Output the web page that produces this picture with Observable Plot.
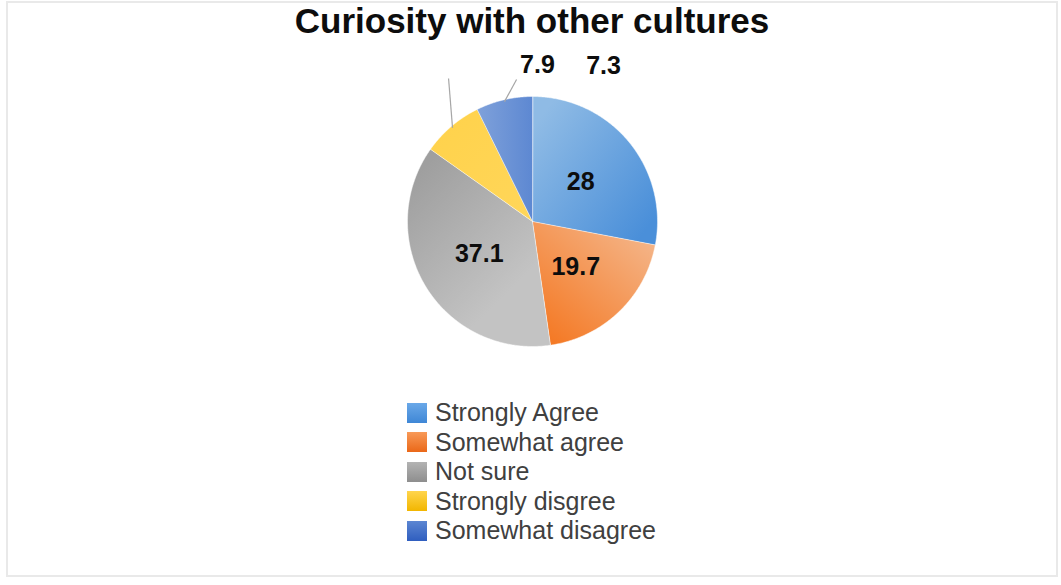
<!DOCTYPE html>
<html>
<head>
<meta charset="utf-8">
<script src="https://cdn.jsdelivr.net/npm/d3@7"></script>
<script src="https://cdn.jsdelivr.net/npm/@observablehq/plot@0.6"></script>
<style>
  html, body { margin: 0; padding: 0; background: #fff; }
  body { width: 1061px; height: 585px; overflow: hidden; font-family: "Liberation Sans", Arial, sans-serif; }
  #wrap { position: relative; width: 1061px; height: 585px; }
  #frame { position: absolute; left: 6px; top: 1px; width: 1048px; height: 572px; border: 2px solid #e9e9e9; }
  #title { position: absolute; left: 0; top: 1px; width: 1064px; text-align: center; font-size: 35px; line-height: 40px; font-weight: bold; color: #0d0d0d; }
  #chart { position: absolute; left: 0; top: 45px; }
  #legend { position: absolute; left: 407px; top: 398px; }
  .row { display: flex; align-items: center; height: 29.5px; }
  .sw { width: 20px; height: 20px; margin-right: 8px; }
  .lab { font-size: 25px; color: #404040; line-height: 27px; white-space: nowrap; }
</style>
</head>
<body>
<div id="wrap">
  <div id="frame"></div>
  <div id="title"></div>
  <div id="chart"></div>
  <div id="legend"></div>
</div>
<script>
// ---- data ----
const title = "Curiosity with other cultures";
const categories = ["Strongly Agree", "Somewhat agree", "Not sure", "Strongly disgree", "Somewhat disagree"];
const values = [28, 19.7, 37.1, 7.9, 7.3];
const valueLabels = ["28", "19.7", "37.1", "7.9", "7.3"];

// ---- styles (gradients per slice) ----
const sliceGradients = [
  {x1: 0.1, y1: 0.1, x2: 0.95, y2: 0.85, c1: "#8fbbe5", c2: "#4a8fd9"},
  {x1: 0.9, y1: 0.1, x2: 0.15, y2: 0.95, c1: "#f4b487", c2: "#f47a26"},
  {x1: 0.1, y1: 0.1, x2: 0.6, y2: 0.8, c1: "#9f9f9f", c2: "#c3c3c3"},
  {x1: 0.0, y1: 0.0, x2: 1.0, y2: 1.0, c1: "#ffd24a", c2: "#ffd65a"},
  {x1: 0.0, y1: 0.5, x2: 1.0, y2: 0.5, c1: "#7fa1da", c2: "#5d88d2"}
];
const swatchGradients = [
  ["#6aa8e8", "#3f87d6"],
  ["#f89a58", "#ea6818"],
  ["#b3b3b3", "#8e8e8e"],
  ["#ffd54d", "#f2b600"],
  ["#5c86d2", "#2f5ebf"]
];
// layout of outside labels (polar: angle in degrees clockwise from top, radius relative to pie radius)
const outsideLayout = {
  3: {labelAngle: 1.8, labelR: 1.25, lineEndAngle: 329.6, lineEndR: 1.327},
  4: {labelAngle: 24.5, labelR: 1.371, lineEndAngle: 353.6, lineEndR: 1.143}
};

document.getElementById("title").textContent = title;

// ---- compute slice geometry ----
const total = d3.sum(values);
let acc = 0;
const slices = values.map((v, i) => {
  const a0 = acc / total * 360;
  acc += v;
  const a1 = acc / total * 360;
  return {i, a0, a1, mid: (a0 + a1) / 2};
});
const rad = a => a * Math.PI / 180;
const px = (a, r) => r * Math.sin(rad(a));
const py = (a, r) => r * Math.cos(rad(a));

const marks = [];
slices.forEach(s => {
  const pts = [{x: 0, y: 0}];
  const n = Math.max(2, Math.ceil((s.a1 - s.a0) / 0.5));
  for (let k = 0; k <= n; k++) {
    const a = s.a0 + (s.a1 - s.a0) * k / n;
    pts.push({x: px(a, 1), y: py(a, 1)});
  }
  marks.push(Plot.line(pts, {x: "x", y: "y", curve: "linear-closed", fill: `url(#sg${s.i})`, stroke: "#ffffff", strokeWidth: 0.6, strokeOpacity: 0.8}));
});

// inside labels
const inside = slices.filter(s => !outsideLayout[s.i]).map(s => ({x: px(s.mid, 0.5), y: py(s.mid, 0.5), t: valueLabels[s.i]}));
marks.push(Plot.text(inside, {x: "x", y: "y", text: "t", fontSize: 25, fontWeight: "bold", fill: "#0d0d0d"}));

// outside labels and leader lines
const leaders = [];
const outside = [];
slices.filter(s => outsideLayout[s.i]).forEach(s => {
  const L = outsideLayout[s.i];
  leaders.push({x1: px(s.mid, 0.985), y1: py(s.mid, 0.985), x2: px(L.lineEndAngle, L.lineEndR), y2: py(L.lineEndAngle, L.lineEndR)});
  outside.push({x: px(L.labelAngle, L.labelR), y: py(L.labelAngle, L.labelR), t: valueLabels[s.i]});
});
marks.push(Plot.link(leaders, {x1: "x1", y1: "y1", x2: "x2", y2: "y2", stroke: "#a6a6a6", strokeWidth: 1.2}));
marks.push(Plot.text(outside, {x: "x", y: "y", text: "t", fontSize: 25, fontWeight: "bold", fill: "#0d0d0d"}));

const R = 125, cx = 532, cy = 176;
const svg = Plot.plot({
  width: 1061,
  height: 340,
  margin: 0,
  x: {domain: [-1, 1], range: [cx - R, cx + R], axis: null},
  y: {domain: [-1, 1], range: [cy + R, cy - R], axis: null},
  style: {fontFamily: "'Liberation Sans', Arial, sans-serif", background: "transparent", overflow: "visible"},
  marks
});

// gradient defs
const defs = d3.select(svg).insert("defs", ":first-child");
sliceGradients.forEach((g, i) => {
  const lg = defs.append("linearGradient").attr("id", `sg${i}`)
    .attr("x1", g.x1).attr("y1", g.y1).attr("x2", g.x2).attr("y2", g.y2);
  lg.append("stop").attr("offset", 0).attr("stop-color", g.c1);
  lg.append("stop").attr("offset", 1).attr("stop-color", g.c2);
});
document.getElementById("chart").appendChild(svg);

// legend
const legend = d3.select("#legend");
categories.forEach((c, i) => {
  const row = legend.append("div").attr("class", "row");
  row.append("div").attr("class", "sw")
    .style("background", `linear-gradient(to bottom, ${swatchGradients[i][0]}, ${swatchGradients[i][1]})`);
  row.append("div").attr("class", "lab").text(c);
});
</script>
</body>
</html>
